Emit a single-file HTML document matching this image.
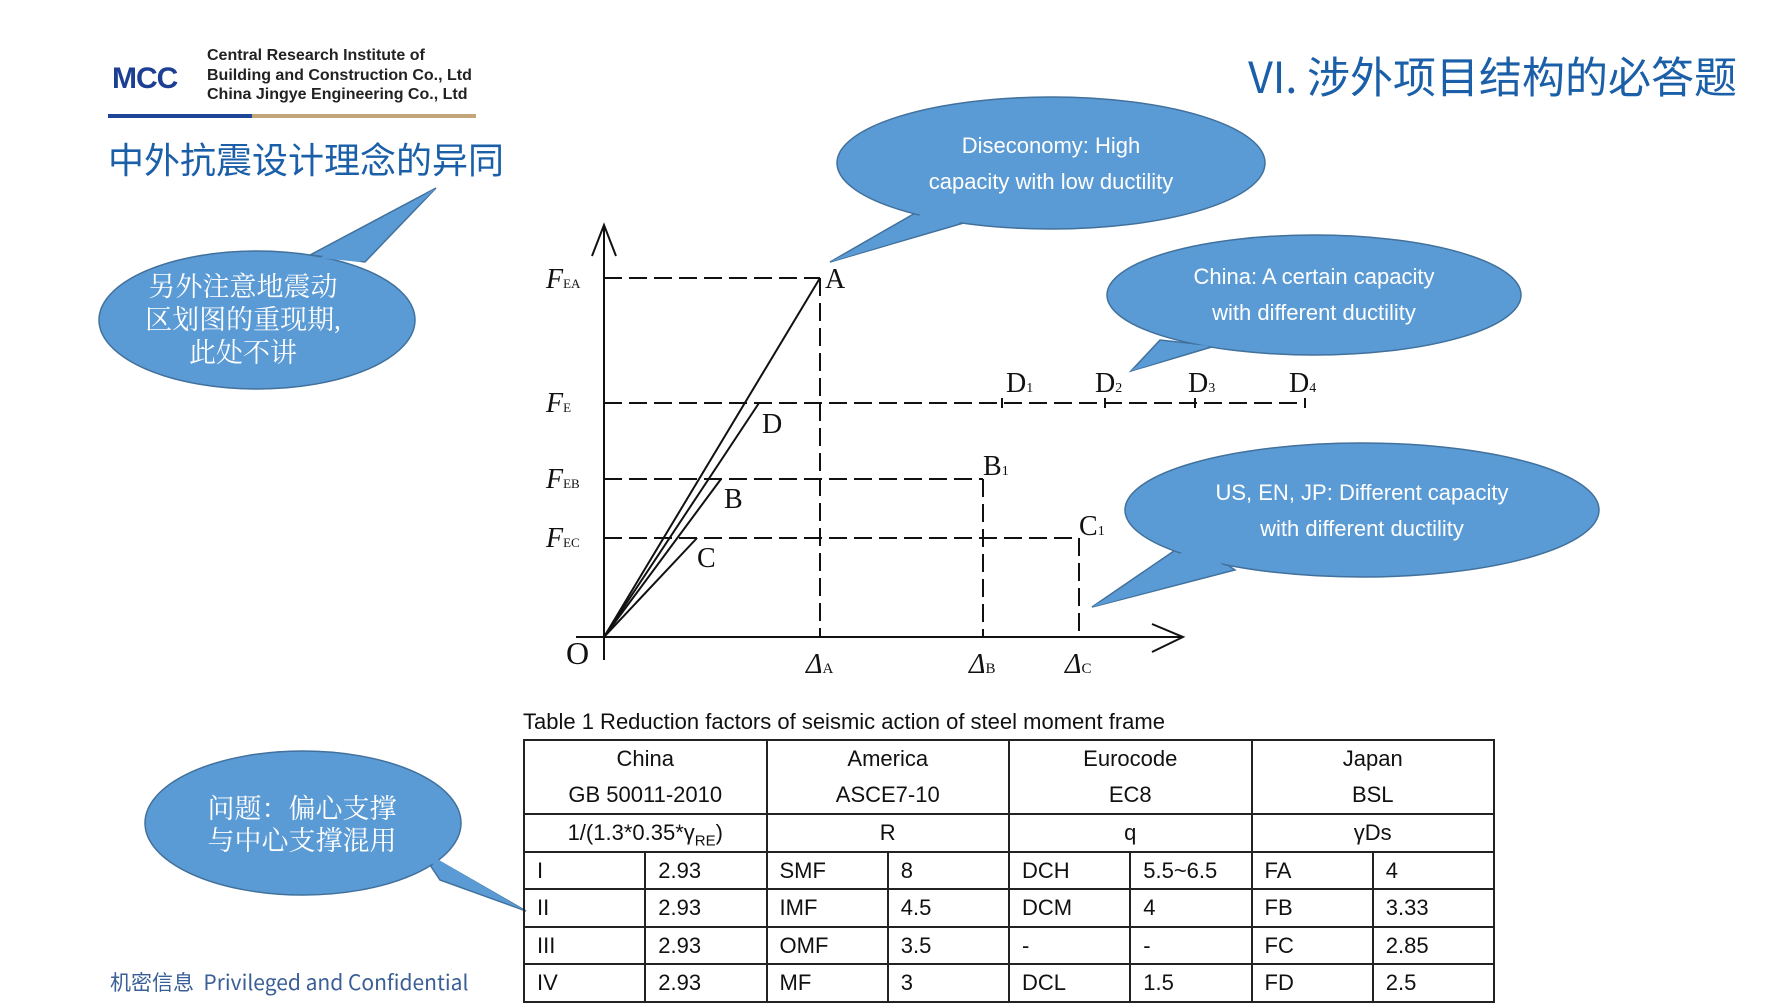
<!DOCTYPE html>
<html><head><meta charset="utf-8"><style>
body{margin:0;width:1792px;height:1008px;background:#fff;position:relative;overflow:hidden;font-family:"Liberation Sans","Noto Sans CJK SC",sans-serif}
.a{position:absolute;white-space:nowrap}
table{position:absolute;left:523px;top:739px;width:972px;table-layout:fixed;border-collapse:collapse;font-family:"Liberation Sans",sans-serif;font-size:22px;color:#111}
td{border:2px solid #222;padding:0 0 0 12px;height:35.5px;line-height:35px;overflow:hidden;white-space:nowrap}
td.c{text-align:center;padding:0}
sub{line-height:0;font-size:15px}
</style></head><body>
<div class="a" style="left:112px;top:62px;font:900 30px 'Liberation Sans',sans-serif;color:#1c3f94;letter-spacing:-1px">MCC</div>
<div class="a" style="left:207px;top:46px;font:bold 16px/19.5px 'Liberation Sans',sans-serif;color:#222">Central Research Institute of<br>Building and Construction Co., Ltd<br>China Jingye Engineering Co., Ltd</div>
<div class="a" style="left:108px;top:114px;width:144px;height:4px;background:#1f4596"></div>
<div class="a" style="left:252px;top:114px;width:224px;height:4px;background:#c3a57a"></div>
<div class="a" style="left:108px;top:132px;font-size:36px;color:#1a5fa8;font-family:'Noto Sans CJK SC',sans-serif">中外抗震设计理念的异同</div>
<div class="a" style="right:55px;top:44px;font-size:43px;color:#1a5fa8;font-family:'Noto Sans CJK SC',sans-serif">VI. 涉外项目结构的必答题</div>
<div class="a" style="left:110px;top:967px;font-size:21px;color:#3a5f96;font-family:'Noto Sans CJK SC',sans-serif">机密信息&nbsp; Privileged and Confidential</div>

<svg class="a" style="left:0;top:0" width="1792" height="1008">
<g fill="#5b9bd5" stroke="#41719c" stroke-width="1.5">
<path d="M310,255 L436,188 L365,262 Z"/><ellipse cx="257" cy="320" rx="158" ry="69"/>
<path d="M917,212 L830,262 L967,222 Z"/><ellipse cx="1051" cy="163" rx="214" ry="66"/>
<path d="M1160,340 L1131,371 L1215,346 Z"/><ellipse cx="1314" cy="295" rx="207" ry="60"/>
<path d="M1190,540 L1092,607 L1235,570 Z"/><ellipse cx="1362" cy="510" rx="237" ry="67"/>
<path d="M420,850 L526,911 L440,880 Z"/><ellipse cx="303" cy="823" rx="158" ry="72"/>
</g>
<g fill="#5b9bd5"><path d="M320,258 L436,188 L360,262 Z"/><path d="M922,214 L830,262 L962,222 Z"/><path d="M1165,342 L1131,371 L1210,346 Z"/><path d="M1195,545 L1092,607 L1230,570 Z"/><path d="M425,852 L526,911 L440,875 Z"/></g>
<g fill="#fff" text-anchor="middle" font-family="'Liberation Serif','Noto Serif CJK SC',serif" font-size="27">
<text x="243" y="296">另外注意地震动</text><text x="243" y="329">区划图的重现期,</text><text x="243" y="362">此处不讲</text>
<text x="302" y="818">问题：偏心支撑</text><text x="302" y="850">与中心支撑混用</text>
</g>
<g fill="#fff" text-anchor="middle" font-family="'Liberation Sans',sans-serif" font-size="22">
<text x="1051" y="153">Diseconomy: High</text><text x="1051" y="189">capacity with low ductility</text>
<text x="1314" y="284">China: A certain capacity</text><text x="1314" y="320">with different ductility</text>
<text x="1362" y="500">US, EN, JP: Different capacity</text><text x="1362" y="536">with different ductility</text>
</g>
<g stroke="#111" stroke-width="2" fill="none">
<line x1="604" y1="225" x2="604" y2="660"/><path d="M592,256 L604,225 L616,256"/>
<line x1="576" y1="637" x2="1183" y2="637"/><path d="M1152,624 L1183,637 L1152,652"/>
<line x1="604" y1="637" x2="820" y2="278"/><line x1="604" y1="637" x2="759" y2="403"/>
<line x1="604" y1="637" x2="721" y2="479"/><line x1="604" y1="637" x2="697" y2="538"/>
<g stroke-dasharray="18,7">
<line x1="604" y1="278" x2="820" y2="278"/><line x1="820" y1="278" x2="820" y2="637"/>
<line x1="604" y1="403" x2="1305" y2="403"/>
<line x1="604" y1="479" x2="983" y2="479"/><line x1="983" y1="479" x2="983" y2="637"/>
<line x1="604" y1="538" x2="1079" y2="538"/><line x1="1079" y1="538" x2="1079" y2="637"/>
</g>
<path d="M1002,398v10M1105,398v10M1195,398v10M1305,398v10"/>
</g>
<g fill="#111" font-family="'Liberation Serif',serif" font-size="28">
<text x="825" y="288">A</text><text x="762" y="433">D</text><text x="724" y="508">B</text><text x="697" y="567">C</text>
<text x="983" y="475">B<tspan font-size="14">1</tspan></text><text x="1079" y="535">C<tspan font-size="14">1</tspan></text>
<text x="1006" y="392">D<tspan font-size="14">1</tspan></text><text x="1095" y="392">D<tspan font-size="14">2</tspan></text>
<text x="1188" y="392">D<tspan font-size="14">3</tspan></text><text x="1289" y="392">D<tspan font-size="14">4</tspan></text>
<text x="566" y="664" font-size="32">O</text>
<g font-style="italic"><text x="546" y="288">F<tspan font-style="normal" font-size="13">EA</tspan></text><text x="546" y="412">F<tspan font-style="normal" font-size="13">E</tspan></text>
<text x="546" y="488">F<tspan font-style="normal" font-size="13">EB</tspan></text><text x="546" y="547">F<tspan font-style="normal" font-size="13">EC</tspan></text>
<text x="806" y="673">Δ<tspan font-style="normal" font-size="15">A</tspan></text><text x="969" y="673">Δ<tspan font-style="normal" font-size="15">B</tspan></text><text x="1065" y="673">Δ<tspan font-style="normal" font-size="15">C</tspan></text></g>
</g>
<text x="523" y="729" font-family="'Liberation Sans',sans-serif" font-size="22" fill="#111">Table 1 Reduction factors of seismic action of steel moment frame</text>
</svg>
<table>
<tr><td class="c" colspan="2" style="height:72px;line-height:36px">China<br>GB 50011-2010</td><td class="c" colspan="2" style="line-height:36px">America<br>ASCE7-10</td><td class="c" colspan="2" style="line-height:36px">Eurocode<br>EC8</td><td class="c" colspan="2" style="line-height:36px">Japan<br>BSL</td></tr>
<tr><td class="c" colspan="2">1/(1.3*0.35*γ<sub>RE</sub>)</td><td class="c" colspan="2">R</td><td class="c" colspan="2">q</td><td class="c" colspan="2">γDs</td></tr>
<tr><td>I</td><td>2.93</td><td>SMF</td><td>8</td><td>DCH</td><td>5.5~6.5</td><td>FA</td><td>4</td></tr>
<tr><td>II</td><td>2.93</td><td>IMF</td><td>4.5</td><td>DCM</td><td>4</td><td>FB</td><td>3.33</td></tr>
<tr><td>III</td><td>2.93</td><td>OMF</td><td>3.5</td><td>-</td><td>-</td><td>FC</td><td>2.85</td></tr>
<tr><td>IV</td><td>2.93</td><td>MF</td><td>3</td><td>DCL</td><td>1.5</td><td>FD</td><td>2.5</td></tr>
</table>
</body></html>
